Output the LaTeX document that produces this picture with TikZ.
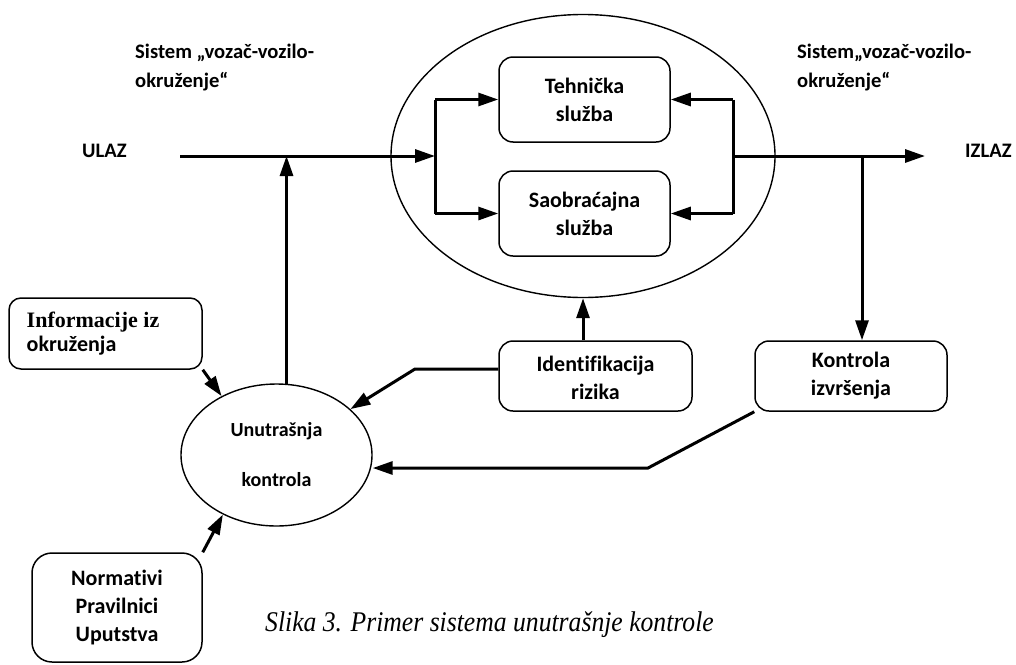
\documentclass[tikz,border=0pt]{standalone}
\usepackage{fontspec}
\setmainfont{Carlito}[Ligatures=NoCommon]
\newfontfamily\timesfont{Liberation Serif}
\usetikzlibrary{arrows.meta,shapes.geometric}
\begin{document}
\begin{tikzpicture}[x=1pt,y=-1pt,
  box/.style={draw,line width=1.5pt,rounded corners=14pt,align=center,inner sep=0pt,
    font=\bfseries\fontsize{22}{28}\selectfont},
  oval/.style={draw,ellipse,line width=1.4pt,inner sep=0pt},
  conn/.style={line width=3pt},
  arr/.style={conn,-{Triangle[length=20pt,width=13pt]}},
  lbl/.style={inner sep=0pt,font=\bfseries\fontsize{20.6}{29}\selectfont,align=left}]
\useasboundingbox (0,0) rectangle (1016,664);
\fill[white] (0,0) rectangle (1016,664);

% big ellipse and inner boxes
\node[oval,minimum width=384pt,minimum height=283pt] (big) at (583,156) {};
\node[box,minimum width=171pt,minimum height=85pt] (tech) at (584.5,99.5) {Tehnička\\služba};
\node[box,minimum width=171pt,minimum height=85pt] (saob) at (584.5,213.5) {Saobraćajna\\služba};

% lower boxes
\node[box,minimum width=193pt,minimum height=70pt,text depth=0pt] (ident) at (595.5,376) {\raisebox{-3pt}{Identifikacija}\\\raisebox{-3pt}{rizika}};
\node[box,minimum width=192pt,minimum height=70pt] (kon) at (851,376) {\raisebox{-3pt}{Kontrola}\\\raisebox{-3pt}{izvršenja}};
\node[box,minimum width=193pt,minimum height=71pt,align=left,rounded corners=12pt,
  font=\bfseries\fontsize{22}{24}\selectfont] (info) at (105.5,333.5)
  {\hspace*{0pt}{\timesfont Informacije iz}\hspace*{25pt}\\okruženja};
\node[box,minimum width=170pt,minimum height=109pt,rounded corners=20pt,
  font=\bfseries\fontsize{22}{27.5}\selectfont] (norm) at (117,607.5) {Normativi\\Pravilnici\\Uputstva};

% small ellipse
\node[oval,minimum width=191pt,minimum height=142pt,
  font=\bfseries\fontsize{20}{28}\selectfont,align=center] (small) at (276.5,455)
  {Unutrašnja\\[22pt]kontrola};

% labels
\node[lbl,anchor=base west] (s1) at (135,58) {Sistem „vozač-vozilo-};
\node[lbl,anchor=base west] (s2) at (135,87) {okruženje“};
\node[lbl,anchor=base west] (r1) at (797,58) {Sistem„vozač-vozilo-};
\node[lbl,anchor=base west] (r2) at (797,87) {okruženje“};
\node[lbl,anchor=base west] (ulaz) at (82,157) {ULAZ};
\node[lbl,anchor=base west] (izlaz) at (965,157) {IZLAZ};
\node[inner sep=0pt,anchor=base west,xscale=0.9,font=\timesfont\itshape\fontsize{28.5}{30}\selectfont]
  (cap) at (265,631) {Slika 3. Primer sistema unutrašnje kontrole};

% coordinates
\coordinate (in0) at (180,156);
\coordinate (lb) at (435,156);
\coordinate (lbt) at (435,99.5);
\coordinate (lbb) at (435,213.5);
\coordinate (rb) at (733,156);
\coordinate (rbt) at (733,99.5);
\coordinate (rbb) at (733,213.5);
\coordinate (out) at (925,156);
\coordinate (d1) at (862,156);
\coordinate (k1) at (415,369);
\coordinate (k2) at (648,468);

% connectors
\draw[arr] (in0) -- (lb);
\draw[conn] (lbt) -- (lbb);
\draw[arr] (lbt) -- (tech.west);
\draw[arr] (lbb) -- (saob.west);
\draw[conn] (rbt) -- (rbb);
\draw[arr] (rbt) -- (tech.east);
\draw[arr] (rbb) -- (saob.east);
\draw[arr] (rb) -- (out);
\draw[arr] (d1) -- (d1 |- kon.north);
\draw[arr] (ident.north -| big.south) -- (big.south);
\draw[arr] (ident.west |- k1) -- (k1) -- (small);
\draw[arr] (small.82) -- (small.82 |- in0);
\draw[arr] (info.south east) -- (small.133);
\draw[arr] (norm.north east) -- (small.228);
\draw[arr] (kon.south west) -- (k2) -- (k2 -| small.east);
\end{tikzpicture}
\end{document}
